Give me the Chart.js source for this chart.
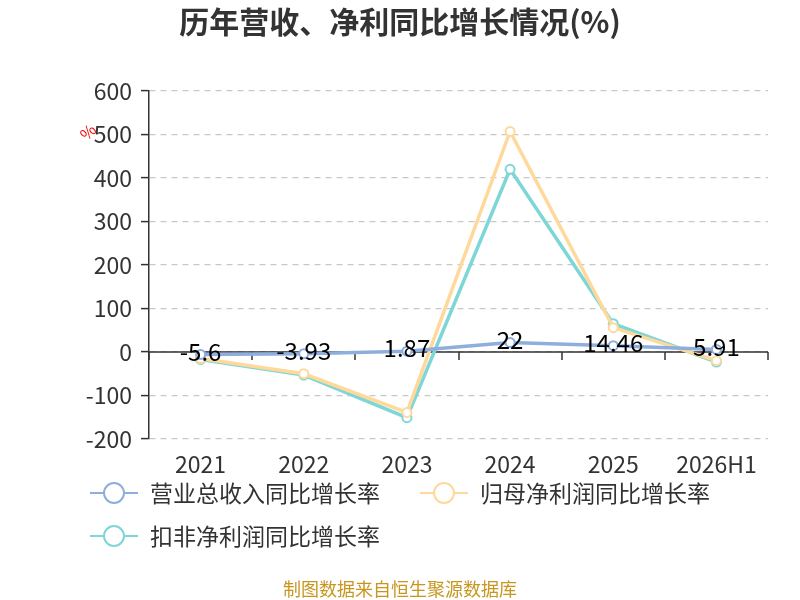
<!DOCTYPE html>
<html><head><meta charset="utf-8">
<script src="https://cdn.jsdelivr.net/npm/chart.js@4.4.0/dist/chart.umd.min.js"></script>
<style>html,body{margin:0;padding:0;background:#fff;}#wrap{width:800px;height:600px;}</style>
</head><body><div id="wrap"><canvas id="c" width="800" height="600"></canvas></div>
<script>
const categories = ['2021','2022','2023','2024','2025','2026H1'];
const revenueGrowth = [-5.6, -3.93, 1.87, 22, 14.46, 5.91];
const netProfitGrowth = [-15, -50, -139, 507, 56, -20];
const deductedProfitGrowth = [-17, -53, -151, 420, 65, -23];
const yTicks = [-200, -100, 0, 100, 200, 300, 400, 500, 600];
const seriesNames = ['营业总收入同比增长率', '归母净利润同比增长率', '扣非净利润同比增长率'];
const colors = ['#8eaedd', '#fed99b', '#7fd6d6'];
const FONT = '"Noto Sans CJK SC","Noto Sans",sans-serif';

const decor = {
  id: 'decor',
  beforeDatasetsDraw(chart) {
    const {ctx, chartArea, scales} = chart;
    const x = scales.x, y = scales.y;
    const y0 = y.getPixelForValue(0);
    ctx.save();
    ctx.strokeStyle = '#333';
    ctx.lineWidth = 1.5;
    ctx.beginPath();
    ctx.moveTo(chartArea.left, y0); ctx.lineTo(chartArea.right, y0);
    const n = categories.length;
    const band = (x.getPixelForValue(1) - x.getPixelForValue(0));
    for (let i = 0; i <= n; i++) {
      const px = Math.round(x.getPixelForValue(0) - band/2 + i*band);
      ctx.moveTo(px, y0); ctx.lineTo(px, y0 + 8);
    }
    ctx.stroke();
    ctx.restore();
  },
  afterDraw(chart) {
    const {ctx, scales} = chart;
    const x = scales.x, y = scales.y;
    ctx.save();
    // title
    ctx.fillStyle = '#333';
    ctx.font = 'bold 30px ' + FONT;
    ctx.textAlign = 'center'; ctx.textBaseline = 'middle';
    ctx.fillText('历年营收、净利同比增长情况(%)', 400, 22);
    // unit
    ctx.save();
    ctx.translate(88, 132);
    ctx.rotate(-Math.PI/4);
    ctx.fillStyle = '#e00';
    ctx.font = '16px ' + FONT;
    ctx.fillText('%', 0, 0);
    ctx.restore();
    // data labels for revenue
    ctx.fillStyle = '#000';
    ctx.font = '24px ' + FONT;
    revenueGrowth.forEach((v, i) => {
      ctx.fillText(String(v), x.getPixelForValue(i), y.getPixelForValue(v) - 3);
    });
    // legend
    const items = [[90, 493], [420, 493], [90, 536]];
    ctx.font = '23px ' + FONT;
    ctx.textAlign = 'left';
    items.forEach((p, i) => {
      const [lx, ly] = p;
      ctx.strokeStyle = colors[i];
      ctx.lineWidth = 2;
      ctx.beginPath(); ctx.moveTo(lx, ly); ctx.lineTo(lx + 48, ly); ctx.stroke();
      ctx.beginPath(); ctx.arc(lx + 24, ly, 10, 0, Math.PI*2);
      ctx.fillStyle = '#fff'; ctx.fill(); ctx.stroke();
      ctx.fillStyle = '#333';
      ctx.fillText(seriesNames[i], lx + 60, ly);
    });
    // footer
    ctx.textAlign = 'center';
    ctx.fillStyle = '#c8961e';
    ctx.font = '18px ' + FONT;
    ctx.fillText('制图数据来自恒生聚源数据库', 400, 589);
    ctx.restore();
  }
};

function ds(label, data, color) {
  return {
    label, data,
    borderColor: color, backgroundColor: '#fff',
    borderWidth: 3.5, pointRadius: 4.5, pointBorderWidth: 2,
    pointBorderColor: color, pointBackgroundColor: '#fff',
    tension: 0
  };
}

new Chart(document.getElementById('c'), {
  type: 'line',
  data: {
    labels: categories,
    datasets: [
      ds(seriesNames[0], revenueGrowth, colors[0]),
      ds(seriesNames[1], netProfitGrowth, colors[1]),
      ds(seriesNames[2], deductedProfitGrowth, colors[2])
    ]
  },
  options: {
    responsive: false,
    animation: false,
    devicePixelRatio: 1,
    layout: { padding: { top: 91, right: 32, left: 0, bottom: 0 } },
    plugins: { legend: { display: false }, title: { display: false }, tooltip: { enabled: false } },
    scales: {
      x: {
        offset: true,
        grid: { display: false, drawTicks: false },
        border: { display: false },
        ticks: { color: '#333', font: { size: 23, family: FONT }, padding: 11, maxRotation: 0, autoSkip: false },
        afterFit(s) { s.height = 161; }
      },
      y: {
        min: -200, max: 600,
        afterBuildTicks(s) { s.ticks = yTicks.map(v => ({ value: v })); },
        grid: { color: '#c8c8c8', lineWidth: 1.2, drawTicks: true, tickLength: 8, tickColor: '#333', tickWidth: 1.5 },
        border: { display: true, color: '#333', width: 1.5, dash: [6, 5] },
        ticks: { color: '#333', font: { size: 23, family: FONT }, padding: 9 },
        afterFit(s) { s.width = 149; }
      }
    }
  },
  plugins: [decor]
});
</script></body></html>
